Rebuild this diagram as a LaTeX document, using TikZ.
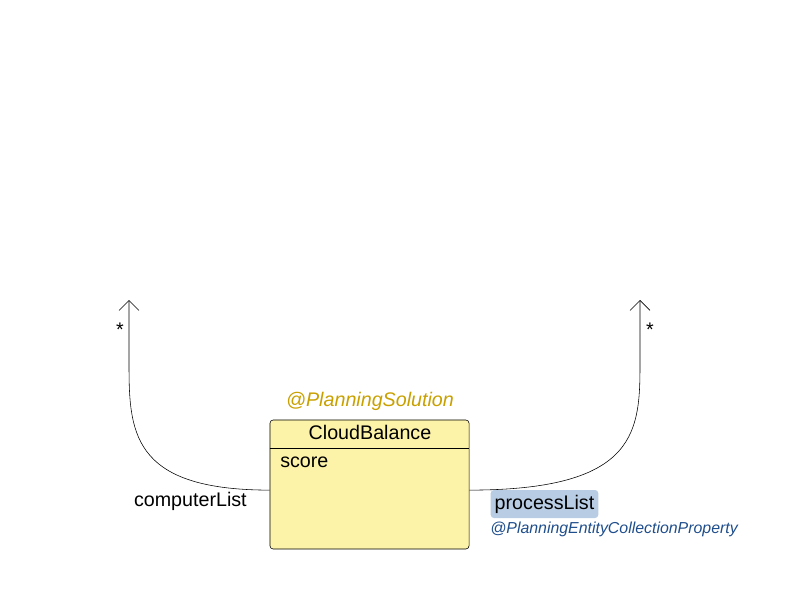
\documentclass[tikz,border=0pt]{standalone}
\usepackage{fontspec}
\setmainfont{Liberation Sans}
\usepackage{tikz}
\usetikzlibrary{arrows.meta, positioning}
\definecolor{boxfill}{RGB}{252,242,168}
\definecolor{solgold}{RGB}{200,160,0}
\definecolor{tagblue}{RGB}{184,204,228}
\definecolor{annblue}{RGB}{31,78,140}
\tikzstyle{classbox} = [rectangle, draw, rounded corners=0.08cm, fill=boxfill, minimum width=4.975cm, minimum height=3.225cm, inner sep=0pt]
\tikzstyle{lbl} = [inner sep=0pt, font=\fontsize{14}{17}\selectfont]
\tikzstyle{ann} = [inner sep=0pt, font=\fontsize{11.3}{14}\selectfont\itshape]
\tikzstyle{arrow} = [-{Straight Barb[length=0.25cm,width=0.5cm]}]

\begin{document}
\begin{tikzpicture}[x=0.025cm, y=-0.025cm]
\useasboundingbox (0,0) rectangle (800,600);

\node [classbox] (box) at (369.5,484.5) {};
\draw ([yshift=-0.725cm]box.north west) -- ([yshift=-0.725cm]box.north east);
\node [lbl] (name) at (370,432) {CloudBalance};
\node [lbl, anchor=west] (score) at (280,462) {score};
\node [lbl, text=solgold, font=\fontsize{14}{17}\selectfont\itshape] (sol) at (370,401) {@PlanningSolution};

\coordinate (ltip) at (129,300);
\coordinate (rtip) at (640,300);
\draw [arrow] ([yshift=-0.14cm]box.west) .. controls (129,490) and (129,430) .. (129,360) -- (ltip);
\draw [arrow] ([yshift=-0.14cm]box.east) .. controls (640,490) and (640,430) .. (640,360) -- (rtip);

\node [lbl] (lstar) at (120,330) {*};
\node [lbl] (rstar) at (650,330) {*};

\node [lbl, anchor=east] (comp) at (247,501) {computerList};
\node [lbl, fill=tagblue, rounded corners=0.08cm, inner xsep=0.1cm, minimum height=0.7cm] (proc) at (544.5,504) {processList};
\node [ann, text=annblue, anchor=west] (ent) at (490,529) {@PlanningEntityCollectionProperty};
\end{tikzpicture}
\end{document}
